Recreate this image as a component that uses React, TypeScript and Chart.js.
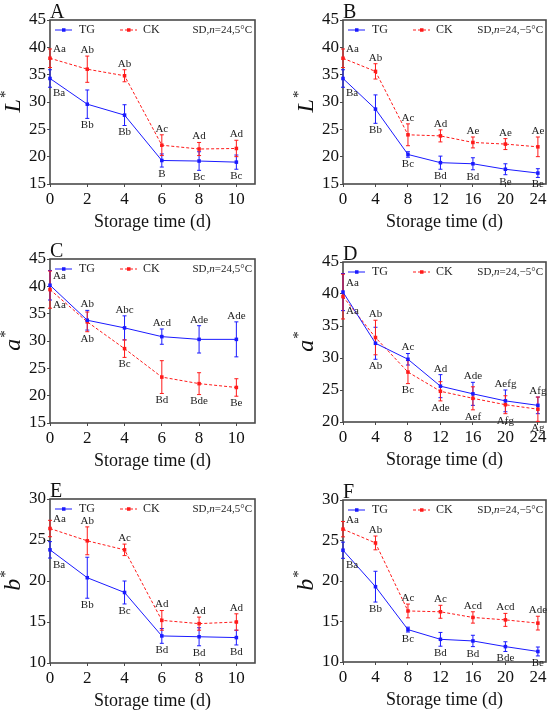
import React, { useEffect, useRef } from 'react'
import Chart from 'chart.js/auto'

const BLUE = '#1a1aff'
const RED = '#ff1a1a'
const FONT = 'Liberation Serif'

const daysShort = [0, 2, 4, 6, 8, 10]
const daysLong = [0, 4, 8, 12, 16, 20, 24]

// A: L*, 5 °C
const tgL5 = [34.3, 29.6, 27.6, 19.3, 19.2, 19.0]
const tgL5Sd = [1.6, 2.6, 1.9, 1.2, 1.7, 1.3]
const ckL5 = [38.0, 36.0, 34.8, 22.1, 21.4, 21.5]
const ckL5Sd = [1.7, 2.4, 1.1, 1.9, 1.2, 1.5]
const tgL5Sig = ['Ba', 'Bb', 'Bb', 'B', 'Bc', 'Bc']
const ckL5Sig = ['Aa', 'Ab', 'Ab', 'Ac', 'Ad', 'Ad']

// B: L*, -5 °C
const tgLm5 = [34.3, 28.7, 20.4, 18.9, 18.7, 17.7, 17.0]
const tgLm5Sd = [1.6, 2.6, 0.5, 1.2, 1.1, 1.0, 0.8]
const ckLm5 = [38.0, 35.6, 24.0, 23.8, 22.6, 22.3, 21.8]
const ckLm5Sd = [1.7, 1.4, 2.0, 1.1, 1.0, 1.0, 1.8]
const tgLm5Sig = ['Ba', 'Bb', 'Bc', 'Bd', 'Bd', 'Be', 'Be']
const ckLm5Sig = ['Aa', 'Ab', 'Ac', 'Ad', 'Ae', 'Ae', 'Ae']

// C: a*, 5 °C
const tgA5 = [40.2, 33.8, 32.4, 30.8, 30.3, 30.3]
const tgA5Sd = [2.7, 1.8, 2.2, 1.4, 2.5, 3.2]
const ckA5 = [39.4, 33.5, 28.6, 23.4, 22.2, 21.5]
const ckA5Sd = [3.4, 1.8, 1.6, 3.0, 2.0, 1.6]
const tgA5Sig = ['Aa', 'Ab', 'Abc', 'Acd', 'Ade', 'Ade']
const ckA5Sig = ['Aa', 'Ab', 'Bc', 'Bd', 'Bde', 'Be']

// D: a*, -5 °C
const tgAm5 = [40.3, 32.3, 29.8, 25.6, 24.4, 23.3, 22.6]
const tgAm5Sd = [2.9, 2.5, 0.9, 1.8, 1.8, 1.7, 1.3]
const ckAm5 = [39.6, 33.2, 27.8, 24.8, 23.7, 22.7, 22.0]
const ckAm5Sd = [3.5, 2.7, 1.8, 1.5, 1.8, 1.4, 1.9]
const tgAm5Sig = ['Aa', 'Ab', 'Ac', 'Ad', 'Ade', 'Aefg', 'Afg']
const ckAm5Sig = ['Aa', 'Ab', 'Bc', 'Ade', 'Aef', 'Afg', 'Ag']

// E: b*, 5 °C
const tgB5 = [23.8, 20.4, 18.6, 13.3, 13.2, 13.1]
const tgB5Sd = [1.0, 2.5, 1.4, 0.9, 1.1, 0.9]
const ckB5 = [26.4, 24.9, 23.8, 15.2, 14.8, 15.0]
const ckB5Sd = [1.0, 1.7, 0.7, 1.2, 0.8, 1.0]
const tgB5Sig = ['Ba', 'Bb', 'Bc', 'Bd', 'Bd', 'Bd']
const ckB5Sig = ['Aa', 'Ab', 'Ac', 'Ad', 'Ad', 'Ad']

// F: b*, -5 °C
const tgBm5 = [23.8, 19.3, 14.0, 12.8, 12.6, 11.9, 11.3]
const tgBm5Sd = [1.0, 1.9, 0.3, 0.85, 0.7, 0.6, 0.55]
const ckBm5 = [26.4, 24.7, 16.3, 16.2, 15.5, 15.2, 14.8]
const ckBm5Sd = [0.95, 0.85, 0.85, 0.8, 0.7, 0.8, 0.85]
const tgBm5Sig = ['Ba', 'Bb', 'Bc', 'Bd', 'Bd', 'Bde', 'Be']
const ckBm5Sig = ['Aa', 'Ab', 'Ac', 'Ac', 'Acd', 'Acd', 'Ade']

type Spec = {
  letter: string
  yVar: string
  temp: string
  days: number[]
  xMax: number
  xStep: number
  yMin: number
  yMax: number
  tg: number[]
  tgSd: number[]
  ck: number[]
  ckSd: number[]
  tgSig: string[]
  ckSig: string[]
  x: number
  y: number
  w: number
  h: number
  area: { left: number; top: number; right: number; bottom: number }
}

const specs: Spec[] = [
  { letter: 'A', yVar: 'L', temp: '5°C', days: daysShort, xMax: 11, xStep: 2, yMin: 15, yMax: 45,
    tg: tgL5, tgSd: tgL5Sd, ck: ckL5, ckSd: ckL5Sd, tgSig: tgL5Sig, ckSig: ckL5Sig,
    x: 0, y: 0, w: 275, h: 235, area: { left: 50, top: 20, right: 255, bottom: 184 } },
  { letter: 'B', yVar: 'L', temp: '−5°C', days: daysLong, xMax: 25, xStep: 4, yMin: 15, yMax: 45,
    tg: tgLm5, tgSd: tgLm5Sd, ck: ckLm5, ckSd: ckLm5Sd, tgSig: tgLm5Sig, ckSig: ckLm5Sig,
    x: 275, y: 0, w: 275, h: 235, area: { left: 68, top: 20, right: 273, bottom: 184 } },
  { letter: 'C', yVar: 'a', temp: '5°C', days: daysShort, xMax: 11, xStep: 2, yMin: 15, yMax: 45,
    tg: tgA5, tgSd: tgA5Sd, ck: ckA5, ckSd: ckA5Sd, tgSig: tgA5Sig, ckSig: ckA5Sig,
    x: 0, y: 235, w: 275, h: 235, area: { left: 50, top: 24, right: 255, bottom: 188 } },
  { letter: 'D', yVar: 'a', temp: '−5°C', days: daysLong, xMax: 25, xStep: 4, yMin: 20, yMax: 45,
    tg: tgAm5, tgSd: tgAm5Sd, ck: ckAm5, ckSd: ckAm5Sd, tgSig: tgAm5Sig, ckSig: ckAm5Sig,
    x: 275, y: 235, w: 275, h: 235, area: { left: 68, top: 27, right: 273, bottom: 187 } },
  { letter: 'E', yVar: 'b', temp: '5°C', days: daysShort, xMax: 11, xStep: 2, yMin: 10, yMax: 30,
    tg: tgB5, tgSd: tgB5Sd, ck: ckB5, ckSd: ckB5Sd, tgSig: tgB5Sig, ckSig: ckB5Sig,
    x: 0, y: 470, w: 275, h: 243, area: { left: 50, top: 29, right: 255, bottom: 193 } },
  { letter: 'F', yVar: 'b', temp: '−5°C', days: daysLong, xMax: 25, xStep: 4, yMin: 10, yMax: 30,
    tg: tgBm5, tgSd: tgBm5Sd, ck: ckBm5, ckSd: ckBm5Sd, tgSig: tgBm5Sig, ckSig: ckBm5Sig,
    x: 275, y: 470, w: 275, h: 243, area: { left: 68, top: 30, right: 273, bottom: 192 } },
]

const decorPlugin = (s: Spec) => ({
  id: 'decor' + s.letter,
  beforeDatasetsDraw(chart: any) {
    const { ctx, chartArea: a } = chart
    const xs = chart.scales.x
    const ys = chart.scales.y
    ctx.save()
    // frame
    ctx.strokeStyle = '#4a4a4a'
    ctx.lineWidth = 1.6
    ctx.strokeRect(a.left, a.top, a.right - a.left, a.bottom - a.top)
    // error bars
    const series: [number[], number[], string][] = [
      [s.tg, s.tgSd, BLUE],
      [s.ck, s.ckSd, RED],
    ]
    ctx.lineWidth = 1
    for (const [m, sd, col] of series) {
      ctx.strokeStyle = col
      s.days.forEach((d, i) => {
        const px = xs.getPixelForValue(d)
        const yt = Math.max(a.top, ys.getPixelForValue(m[i] + sd[i]))
        const yb = Math.min(a.bottom, ys.getPixelForValue(m[i] - sd[i]))
        ctx.beginPath()
        ctx.moveTo(px, yt)
        ctx.lineTo(px, yb)
        ctx.moveTo(px - 2, yt)
        ctx.lineTo(px + 2, yt)
        ctx.moveTo(px - 2, yb)
        ctx.lineTo(px + 2, yb)
        ctx.stroke()
      })
    }
    ctx.restore()
  },
  afterDatasetsDraw(chart: any) {
    const { ctx, chartArea: a } = chart
    const xs = chart.scales.x
    const ys = chart.scales.y
    ctx.save()

    // significance letters
    ctx.font = `11px "${FONT}"`
    ctx.fillStyle = '#222'
    ctx.textBaseline = 'middle'
    s.days.forEach((d, i) => {
      const tgHigh = s.tg[i] >= s.ck[i]
      const items = [
        { m: s.tg[i], sd: s.tgSd[i], t: s.tgSig[i], up: tgHigh },
        { m: s.ck[i], sd: s.ckSd[i], t: s.ckSig[i], up: !tgHigh },
      ]
      const px = xs.getPixelForValue(d)
      items.forEach((it) => {
        if (i === 0) {
          ctx.textAlign = 'left'
          ctx.fillText(it.t, px + 3, ys.getPixelForValue(it.m) + (it.up ? -9 : 15))
        } else {
          ctx.textAlign = 'center'
          const y = it.up
            ? ys.getPixelForValue(it.m + it.sd) - 6
            : ys.getPixelForValue(it.m - it.sd) + 7
          ctx.fillText(it.t, px, y)
        }
      })
    })

    // legend
    const ly = a.top + 10
    ctx.lineWidth = 1
    ctx.strokeStyle = BLUE
    ctx.fillStyle = BLUE
    ctx.beginPath()
    ctx.moveTo(a.left + 5, ly)
    ctx.lineTo(a.left + 22, ly)
    ctx.stroke()
    ctx.fillRect(a.left + 12, ly - 1.75, 3.5, 3.5)
    ctx.strokeStyle = RED
    ctx.fillStyle = RED
    ctx.setLineDash([3, 2])
    ctx.beginPath()
    ctx.moveTo(a.left + 70, ly)
    ctx.lineTo(a.left + 87, ly)
    ctx.stroke()
    ctx.setLineDash([])
    ctx.fillRect(a.left + 77, ly - 1.75, 3.5, 3.5)
    ctx.fillStyle = '#222'
    ctx.font = `12px "${FONT}"`
    ctx.textAlign = 'left'
    ctx.fillText('TG', a.left + 29, ly)
    ctx.fillText('CK', a.left + 93, ly)

    // condition text, right aligned
    const parts: [string, string][] = [
      ['SD,', `11px "${FONT}"`],
      ['n', `italic 11px "${FONT}"`],
      ['=24,' + s.temp, `11px "${FONT}"`],
    ]
    let total = 0
    for (const [t, f] of parts) {
      ctx.font = f
      total += ctx.measureText(t).width
    }
    let cx = a.right - 3 - total
    for (const [t, f] of parts) {
      ctx.font = f
      ctx.fillText(t, cx, ly)
      cx += ctx.measureText(t).width
    }

    // panel letter
    ctx.fillStyle = '#111'
    ctx.font = `20px "${FONT}"`
    ctx.textBaseline = 'alphabetic'
    ctx.fillText(s.letter, a.left, a.top - 2)

    // x title
    ctx.font = `18px "${FONT}"`
    ctx.textAlign = 'center'
    ctx.fillText('Storage time (d)', (a.left + a.right) / 2, a.bottom + 43)

    // y title with superscript asterisk
    ctx.translate(a.left - 30, (a.top + a.bottom) / 2)
    ctx.rotate(-Math.PI / 2)
    ctx.textAlign = 'left'
    ctx.font = `italic 24px "${FONT}"`
    const wv = ctx.measureText(s.yVar).width
    ctx.font = `15px "${FONT}"`
    const ws = ctx.measureText('*').width
    const x0 = -(wv + ws) / 2
    ctx.font = `italic 24px "${FONT}"`
    ctx.fillText(s.yVar, x0, 0)
    ctx.font = `15px "${FONT}"`
    ctx.fillText('*', x0 + wv + 1, -10)

    ctx.restore()
  },
})

const Panel = ({ s }: { s: Spec }) => {
  const chartRef = useRef<HTMLCanvasElement>(null)

  useEffect(() => {
    const tickFont = { family: FONT, size: 17 }
    const chart = new Chart(chartRef.current!, {
      type: 'line',
      data: {
        datasets: [
          {
            label: 'TG',
            data: s.days.map((d, i) => ({ x: d, y: s.tg[i] })),
            borderColor: BLUE,
            backgroundColor: BLUE,
            borderWidth: 1,
            pointStyle: 'rect',
            pointRadius: 2.5,
            pointBorderWidth: 0,
            tension: 0,
            clip: false,
          },
          {
            label: 'CK',
            data: s.days.map((d, i) => ({ x: d, y: s.ck[i] })),
            borderColor: RED,
            backgroundColor: RED,
            borderWidth: 1,
            borderDash: [3, 2],
            pointStyle: 'rect',
            pointRadius: 2.5,
            pointBorderWidth: 0,
            tension: 0,
            clip: false,
          },
        ],
      },
      options: {
        animation: false,
        responsive: true,
        maintainAspectRatio: false,
        layout: { padding: { top: s.area.top, right: s.w - s.area.right, left: 0, bottom: 0 } },
        plugins: { legend: { display: false }, tooltip: { enabled: false } },
        scales: {
          x: {
            type: 'linear',
            min: 0,
            max: s.xMax,
            afterFit: (sc: any) => {
              sc.height = s.h - s.area.bottom
            },
            ticks: {
              stepSize: s.xStep,
              includeBounds: false,
              autoSkip: false,
              maxRotation: 0,
              padding: 2,
              color: '#111',
              font: tickFont,
            },
            grid: { display: true, drawOnChartArea: false, drawTicks: true, tickLength: 3, color: '#4a4a4a' },
            border: { display: false },
          },
          y: {
            min: s.yMin,
            max: s.yMax,
            afterFit: (sc: any) => {
              sc.width = s.area.left
            },
            ticks: { stepSize: 5, padding: 1, color: '#111', font: tickFont },
            grid: { display: true, drawOnChartArea: false, drawTicks: true, tickLength: 3, color: '#4a4a4a' },
            border: { display: false },
          },
        },
      },
      plugins: [decorPlugin(s)],
    } as any)

    return () => {
      chart.destroy()
    }
  }, [s])

  return (
    <div style={{ position: 'absolute', left: s.x, top: s.y, width: s.w, height: s.h }}>
      <canvas ref={chartRef} />
    </div>
  )
}

const App = () => (
  <div style={{ position: 'absolute', left: 0, top: 0, width: 550, height: 713, background: '#fff' }}>
    {specs.map((s) => (
      <Panel key={s.letter} s={s} />
    ))}
  </div>
)

export default App
